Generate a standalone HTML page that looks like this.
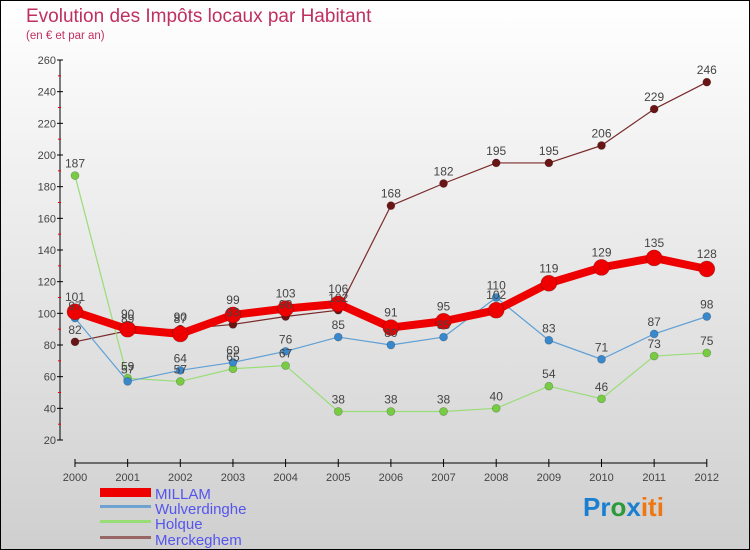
<!DOCTYPE html>
<html><head><meta charset="utf-8"><style>
body{margin:0;width:750px;height:550px;overflow:hidden;font-family:"Liberation Sans",sans-serif}
svg{display:block}
</style></head><body>
<svg id="chart" width="750" height="550" xmlns="http://www.w3.org/2000/svg">
<defs><linearGradient id="bg" x1="0" y1="0" x2="0" y2="1"><stop offset="0" stop-color="#ffffff"/><stop offset="1" stop-color="#cfcfcf"/></linearGradient></defs>
<rect x="0.5" y="0.5" width="749" height="549" fill="url(#bg)" stroke="#000"/>
<text x="26" y="22" font-size="19" fill="#c0305f">Evolution des Impôts locaux par Habitant</text>
<text x="26" y="39" font-size="11.5" fill="#c0305f">(en € et par an)</text>
<g id="axes"></g><g id="series"></g><g id="labels"></g>
<g font-size="15" fill="#5555ee">
<rect x="100" y="488" width="51" height="9" fill="#ee0000"/>
<text x="155" y="499">MILLAM</text>
<rect x="100" y="505" width="51" height="3" fill="#6fa3cf"/>
<text x="155" y="514">Wulverdinghe</text>
<rect x="100" y="520" width="51" height="3" fill="#99dd77"/>
<text x="155" y="529">Holque</text>
<rect x="100" y="536" width="51" height="3" fill="#996666"/>
<text x="155" y="545">Merckeghem</text>
</g>
<g font-size="26" font-weight="bold">
<text x="583" y="516"><tspan fill="#1a7fd0">Pr</tspan><tspan fill="#2a9a3a">o</tspan><tspan fill="#1a7fd0">x</tspan><tspan fill="#ee7711">iti</tspan></text>
</g>
</svg>
<script>
const years=[2000,2001,2002,2003,2004,2005,2006,2007,2008,2009,2010,2011,2012];
const yTicks=[20,40,60,80,100,120,140,160,180,200,220,240,260];
const millam=[101,90,87,99,103,106,91,95,102,119,129,135,128];
const wulverdinghe=[97,57,64,69,76,85,80,85,110,83,71,87,98];
const holque=[187,59,57,65,67,38,38,38,40,54,46,73,75];
const merckeghem=[82,89,90,93,98,102,168,182,195,195,206,229,246];
const NS="http://www.w3.org/2000/svg";
const xS=i=>75+i*52.65;
const yS=v=>440-(v-20)*380/240;
function mk(tag,attrs,parent){const e=document.createElementNS(NS,tag);for(const k in attrs)e.setAttribute(k,attrs[k]);parent.appendChild(e);return e;}
const axes=document.getElementById('axes');
const ya=mk('line',{x1:60,y1:60,x2:60,y2:440,stroke:'#000','stroke-width':1},axes);


yTicks.forEach((t,i)=>{
  mk('line',{x1:57,x2:63,y1:yS(t),y2:yS(t),stroke:'#000'},axes);
  if(i<yTicks.length-1) mk('line',{x1:58,x2:61,y1:yS(t+10),y2:yS(t+10),stroke:'#ee0000'},axes);
  const tx=mk('text',{x:56,y:yS(t)+4,'text-anchor':'end','font-size':11,fill:'#444'},axes);
  tx.textContent=t;
  
  
});
const xa=mk('line',{x1:75,y1:463,x2:xS(12),y2:463,stroke:'#000'},axes);


years.forEach((y,i)=>{
  mk('line',{x1:xS(i),x2:xS(i),y1:459,y2:467,stroke:'#000'},axes);
  const tx=mk('text',{x:xS(i),y:481,'text-anchor':'middle','font-size':11,fill:'#444'},axes);
  tx.textContent=y;
  
  
});
const ser=document.getElementById('series'),lab=document.getElementById('labels');
function draw(vals,name,color,dot,w,r){
  const g=mk('g',{},ser);
  
  
  const p=mk('polyline',{points:vals.map((v,i)=>xS(i)+','+yS(v)).join(' '),fill:'none',stroke:color,'stroke-width':w,'stroke-linejoin':'round'},g);
  
  
  vals.forEach((v,i)=>{
    const c=mk('circle',{cx:xS(i),cy:yS(v),r:r,fill:dot,stroke:'rgba(0,0,0,0.25)','stroke-width':0.7},g);
    
    
    const t=mk('text',{x:xS(i),y:yS(v)-8-(r>5?3:0),'text-anchor':'middle','font-size':12,fill:'#444'},lab);
    t.textContent=v;
    
    
  });
}
draw(merckeghem,'merckeghem','#7a2a2a','#6a1515',1.2,4);
draw(holque,'holque','#99dd77','#77cc44',1.2,4);
draw(wulverdinghe,'wulverdinghe','#5fa0d5','#3a88cc',1.2,4);
draw(millam,'millam','#ee0000','#ee0000',8,8);
</script>
</body></html>
